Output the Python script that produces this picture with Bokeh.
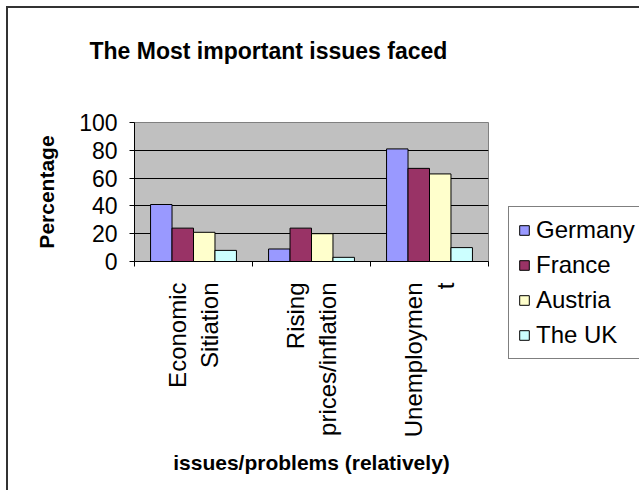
import math
from bokeh.plotting import figure
from bokeh.layouts import row, column
from bokeh.models import (FactorRange, Range1d, FixedTicker, LinearAxis, CategoricalAxis,
                          Legend, LegendItem, ColumnDataSource, CustomLabelingPolicy)
from bokeh.transform import dodge
from bokeh.embed import file_html
from bokeh.resources import INLINE

categories = ["Economic\nSitiation", "Rising\nprices/inflation", "Unemploymen\nt"]
series = ["Germany", "France", "Austria", "The UK"]
germany = [41, 9, 81]
france = [24, 24, 67]
austria = [21, 20, 63]
the_uk = [8, 3, 10]
y_ticks = [0, 20, 40, 60, 80, 100]
colors = ["#9999FF", "#993366", "#FFFFCC", "#CCFFFF"]

FONT = "Liberation Sans"
H = 490
W1, W2 = 500, 139

source = ColumnDataSource(dict(cat=categories, germany=germany, france=france,
                               austria=austria, the_uk=the_uk))
keys = ["germany", "france", "austria", "the_uk"]

line_css = {
    "background-image": "linear-gradient(#333333,#333333), linear-gradient(#333333,#333333)",
    "background-size": "2px 100%, 100% 2px",
    "background-repeat": "no-repeat",
}

p = figure(x_range=FactorRange(*categories, range_padding=0), y_range=Range1d(0, 100),
           width=W1, height=H, output_backend="svg", toolbar_location=None,
           x_axis_location=None,
           min_border_left=134, min_border_right=W1 - 488,
           min_border_top=122, min_border_bottom=H - 261)
p.styles = dict(line_css, **{"background-position": "6px 6px, 6px 6px"})

p.background_fill_color = "#C0C0C0"
p.border_fill_color = None
p.outline_line_color = "#808080"
p.outline_line_width = 1

# title (trailing empty line lifts the visible line upward)
p.title.text = "The Most important issues faced\n"
p.title.text_font = FONT
p.title.text_font_size = "23px"
p.title.text_font_style = "bold"
p.title.text_color = "black"
p.title.align = "left"
p.title.offset = -45
p.title.standoff = 66

# y axis
ya = p.yaxis[0]
ya.ticker = FixedTicker(ticks=y_ticks)
ya.axis_line_color = "black"
ya.major_tick_out = 5
ya.major_tick_in = 0
ya.minor_tick_line_color = None
ya.major_label_standoff = 12
ya.major_label_text_font = FONT
ya.major_label_text_font_size = "23px"
ya.major_label_text_color = "black"
ya.axis_label = "Percentage"
ya.axis_label_text_font = FONT
ya.axis_label_text_font_size = "21px"
ya.axis_label_text_font_style = "bold"
ya.axis_label_text_color = "black"
ya.axis_label_standoff = 18

p.ygrid.ticker = FixedTicker(ticks=y_ticks)
p.ygrid.grid_line_color = "black"
p.ygrid.grid_line_width = 1
p.xgrid.visible = False

# x axis: tick marks at category boundaries (no labels)
no_labels = CustomLabelingPolicy(code="""
    for (let i = 0; i < indices.size; i++) { indices.unset(i) }
    return indices
""")
tick_axis = LinearAxis(ticker=FixedTicker(ticks=[0, 1, 2, 3]),
                       major_label_policy=no_labels, major_label_standoff=0,
                       major_tick_out=5, major_tick_in=0, minor_tick_line_color=None,
                       axis_line_color="black")
p.add_layout(tick_axis, "below")

cat_axis = CategoricalAxis(axis_line_color=None, major_tick_line_color=None,
                           major_tick_out=0, major_tick_in=0,
                           major_label_orientation=math.pi / 2, major_label_standoff=5,
                           major_label_text_font=FONT, major_label_text_font_size="24px",
                           major_label_text_color="black", major_label_text_align="center",
                           axis_label="issues/problems (relatively)",
                           axis_label_text_font=FONT, axis_label_text_font_size="21px",
                           axis_label_text_font_style="bold", axis_label_text_color="black",
                           axis_label_standoff=11)
p.add_layout(cat_axis, "below")

# bars
bw = 0.182
offsets = [-1.5 * bw, -0.5 * bw, 0.5 * bw, 1.5 * bw]
for key, off, c in zip(keys, offsets, colors):
    p.vbar(x=dodge("cat", off, range=p.x_range), top=key, width=bw, source=source,
           fill_color=c, line_color="black", line_width=1)

# legend holder: separate figure whose frame covers the legend area
q = figure(x_range=FactorRange(*categories, range_padding=0), y_range=Range1d(0, 100),
           width=W2, height=H, output_backend="svg", toolbar_location=None,
           x_axis_location=None, y_axis_location=None,
           min_border_left=0, min_border_right=0, min_border_top=190,
           min_border_bottom=H - 364)
q.styles = dict(line_css, **{"background-position": "-10px -10px, 0px 6px"})
q.background_fill_color = None
q.border_fill_color = None
q.outline_line_color = None
q.grid.visible = False

items = []
for key, name, off, c in zip(keys, series, offsets, colors):
    r = q.vbar(x=dodge("cat", off, range=q.x_range), top=key, width=bw, source=source,
               fill_color=c, line_color="black", line_width=1, visible=False)
    items.append(LegendItem(label=name, renderers=[r]))

legend = Legend(items=items, location=(8, 5),
                label_text_font=FONT, label_text_font_size="24px",
                label_text_color="black", label_height=23, glyph_width=12, glyph_height=12,
                label_standoff=6, spacing=7, padding=9, margin=0,
                border_line_color="black", border_line_width=1,
                background_fill_color="white", background_fill_alpha=1,
                inactive_fill_alpha=0)
q.add_layout(legend)

layout = row(p, column(q), spacing=0)
open("out.html", "w").write(file_html(layout, INLINE))
